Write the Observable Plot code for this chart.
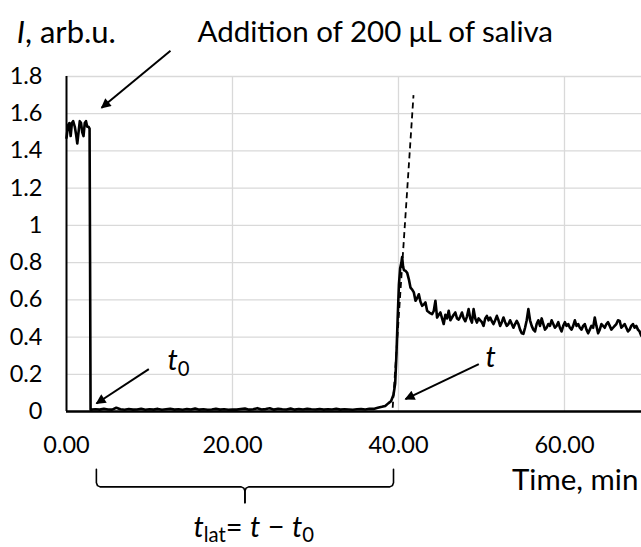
<!DOCTYPE html>
<html>
<head>
<meta charset="utf-8">
<script src="https://cdn.jsdelivr.net/npm/d3@7"></script>
<script src="https://cdn.jsdelivr.net/npm/@observablehq/plot@0.6"></script>
<style>
  html, body { margin: 0; padding: 0; background: #fff; }
  #chart svg { display: block; }
</style>
</head>
<body>
<div id="chart"></div>
<script>
// ---------------- data ----------------
const xTickValues = [0, 20, 40, 60];
const yTickValues = [0, 0.2, 0.4, 0.6, 0.8, 1, 1.2, 1.4, 1.6, 1.8];

// initial signal before saliva addition (time, min ; I, arb.u.)
const startPoints = [
  [0, 1.47], [0.2, 1.54], [0.35, 1.55], [0.5, 1.48], [0.65, 1.55], [0.8, 1.56],
  [1.0, 1.53], [1.15, 1.49], [1.3, 1.44], [1.45, 1.50], [1.6, 1.56], [1.75, 1.55],
  [1.9, 1.50], [2.05, 1.48], [2.2, 1.55], [2.35, 1.56], [2.5, 1.53], [2.65, 1.53],
  [2.78, 1.52], [2.84, 0.8], [2.9, 0.01]
];
// latent period baseline
const baselinePoints = [
  [3.0, 0.010], [3.5, 0.012], [4.0, 0.010], [4.5, 0.015], [5.0, 0.011], [5.5, 0.010],
  [6.0, 0.020], [6.5, 0.012], [7.0, 0.009], [7.5, 0.013], [8.0, 0.010], [8.5, 0.011],
  [9.0, 0.015], [9.5, 0.009], [10.0, 0.012], [10.5, 0.010], [11.0, 0.014], [11.5, 0.009],
  [12.0, 0.012], [12.5, 0.015], [13.0, 0.010], [13.5, 0.012], [14.0, 0.009], [14.5, 0.013],
  [15.0, 0.011], [15.5, 0.016], [16.0, 0.010], [16.5, 0.012], [17.0, 0.009], [17.5, 0.011],
  [18.0, 0.014], [18.5, 0.010], [19.0, 0.012], [19.5, 0.009], [20.0, 0.011], [20.5, 0.010],
  [21.0, 0.013], [21.5, 0.016], [22.0, 0.010], [22.5, 0.012], [23.0, 0.018], [23.5, 0.011],
  [24.0, 0.013], [24.5, 0.017], [25.0, 0.010], [25.5, 0.015], [26.0, 0.012], [26.5, 0.011],
  [27.0, 0.016], [27.5, 0.010], [28.0, 0.013], [28.5, 0.011], [29.0, 0.014], [29.5, 0.012],
  [30.0, 0.011], [30.5, 0.013], [31.0, 0.010], [31.5, 0.012], [32.0, 0.011], [32.5, 0.014],
  [33.0, 0.010], [33.5, 0.012], [34.0, 0.011], [34.5, 0.009], [35.0, 0.012], [35.5, 0.013],
  [36.0, 0.011], [36.5, 0.015], [37.0, 0.014]
];
// flash rise
const risePoints = [
  [37.5, 0.02], [38.0, 0.025], [38.4, 0.03], [38.8, 0.045], [39.1, 0.055], [39.4, 0.09],
  [39.6, 0.15], [39.75, 0.3], [39.9, 0.5], [40.05, 0.68], [40.2, 0.77], [40.35, 0.80],
  [40.44, 0.83], [40.55, 0.78], [40.65, 0.76], [40.85, 0.755]
];
// decay / plateau
const decayPoints = [
  [41.05, 0.745], [41.25, 0.71], [41.45, 0.665], [41.65, 0.655], [41.85, 0.64], [42.05, 0.595],
  [42.25, 0.61], [42.45, 0.63], [42.65, 0.59], [42.85, 0.568], [43.05, 0.575], [43.25, 0.586],
  [43.45, 0.541], [43.75, 0.53], [44.05, 0.523], [44.25, 0.54], [44.45, 0.595], [44.65, 0.505],
  [44.85, 0.52], [45.05, 0.532], [45.25, 0.50], [45.45, 0.47], [45.65, 0.52], [45.85, 0.50],
  [46.05, 0.541], [46.25, 0.49], [46.45, 0.505], [46.65, 0.52], [46.85, 0.532], [47.05, 0.50],
  [47.25, 0.494], [47.45, 0.51], [47.65, 0.532], [47.85, 0.50], [48.05, 0.485], [48.25, 0.51],
  [48.45, 0.55], [48.65, 0.50], [48.85, 0.478], [49.05, 0.55], [49.25, 0.50], [49.45, 0.478],
  [49.65, 0.50], [49.85, 0.49], [50.05, 0.48], [50.25, 0.46], [50.45, 0.50], [50.65, 0.514],
  [50.85, 0.49], [51.05, 0.505], [51.25, 0.485], [51.45, 0.47], [51.65, 0.49], [51.85, 0.514],
  [52.05, 0.49], [52.25, 0.46], [52.45, 0.48], [52.65, 0.505], [52.85, 0.48], [53.05, 0.46],
  [53.25, 0.47], [53.45, 0.49], [53.65, 0.47], [53.85, 0.45], [54.05, 0.47], [54.25, 0.487],
  [54.45, 0.47], [54.65, 0.44], [54.85, 0.42], [55.05, 0.417], [55.25, 0.45], [55.45, 0.49],
  [55.65, 0.55], [55.85, 0.49], [56.05, 0.46], [56.25, 0.44], [56.45, 0.43], [56.65, 0.47],
  [56.85, 0.49], [57.05, 0.46], [57.25, 0.50], [57.45, 0.47], [57.65, 0.44], [57.85, 0.45],
  [58.05, 0.47], [58.25, 0.46], [58.45, 0.49], [58.65, 0.47], [58.85, 0.45], [59.05, 0.46],
  [59.25, 0.48], [59.45, 0.45], [59.65, 0.43], [59.85, 0.46], [60.05, 0.48], [60.25, 0.46],
  [60.45, 0.47], [60.65, 0.45], [60.85, 0.44], [61.05, 0.46], [61.25, 0.49], [61.45, 0.46],
  [61.65, 0.47], [61.85, 0.45], [62.05, 0.44], [62.25, 0.46], [62.45, 0.47], [62.65, 0.44],
  [62.85, 0.42], [63.05, 0.44], [63.25, 0.46], [63.45, 0.45], [63.65, 0.505], [63.85, 0.46],
  [64.05, 0.42], [64.25, 0.44], [64.45, 0.47], [64.65, 0.46], [64.85, 0.45], [65.05, 0.47],
  [65.25, 0.48], [65.45, 0.46], [65.65, 0.44], [65.85, 0.45], [66.05, 0.46], [66.25, 0.47],
  [66.45, 0.49], [66.65, 0.487], [66.85, 0.45], [67.05, 0.46], [67.25, 0.47], [67.45, 0.45],
  [67.65, 0.43], [67.85, 0.44], [68.05, 0.46], [68.25, 0.47], [68.45, 0.45], [68.65, 0.46],
  [68.85, 0.44], [69.05, 0.43], [69.25, 0.407]
];

// annotations (data units: time, min ; I, arb.u.)
const t0Value = 3.6;     // t0 : start of latent period
const tValue = 39.4;     // t  : flash onset
const arrowFrom = [[12.53, 1.938], [9.92, 0.228], [49.68, 0.255]];
const arrowTo   = [[4.22, 1.632], [3.61, 0.043], [40.84, 0.067]];
const tangentPoints = [[39.3, 0.02], [41.81, 1.70]];
const braceLevels = { braceTop: -0.31, braceBar: -0.405, braceTip: -0.49 };

// ---------------- build ----------------
const signal = [...startPoints, ...baselinePoints, ...risePoints, ...decayPoints]
  .map(([t, I]) => ({ t, I }));
const arrows = arrowFrom.map((f, i) => ({ x1: f[0], y1: f[1], x2: arrowTo[i][0], y2: arrowTo[i][1] }));
const tangent = [{ x1: tangentPoints[0][0], y1: tangentPoints[0][1], x2: tangentPoints[1][0], y2: tangentPoints[1][1] }];

const braceMid = (t0Value + tValue) / 2, brx = 0.45, bry = 0.022;
const { braceTop, braceBar, braceTip } = braceLevels;
const braceHalf = (s, e) => [
  [e, braceTop], [e, braceBar + bry], [e + s * brx * 0.3, braceBar + bry * 0.3], [e + s * brx, braceBar],
  [braceMid - s * brx, braceBar], [braceMid - s * brx * 0.3, braceBar - bry * 0.3], [braceMid, braceBar - bry], [braceMid, braceTip]
];
const brace = [
  ...braceHalf(1, t0Value).map(([x, y]) => ({ x, y, side: "L" })),
  ...braceHalf(-1, tValue).map(([x, y]) => ({ x, y, side: "R" }))
];

const labels = [
  { x: -6.0, y: 2.035, text: "I, arb.u.", anchor: "start", size: 31, key: "ylab" },
  { x: 37.2, y: 2.035, text: "Addition of 200 μL of saliva", anchor: "middle", size: 29.5, key: "title" },
  { x: 68.9, y: -0.372, text: "Time, min", anchor: "end", size: 29.5, key: "xlab" },
  { x: 12.17, y: 0.272, text: "t0", anchor: "start", size: 29, key: "t0" },
  { x: 50.48, y: 0.289, text: "t", anchor: "start", size: 29, key: "t" },
  { x: 15.3, y: -0.625, text: "tlat= t − t0", anchor: "start", size: 29, key: "tlat" }
];

const font = "Lato, 'Open Sans', sans-serif";

const chart = Plot.plot({
  width: 641,
  height: 547,
  marginLeft: 66,
  marginRight: 0,
  marginTop: 76,
  marginBottom: 136,
  style: { fontFamily: font, fontSize: "23.5px", color: "#000", background: "#fff", overflow: "visible" },
  x: { domain: [0, 69.28], ticks: xTickValues, tickFormat: d3.format(".2f"), tickSize: 0, tickPadding: 25, label: null },
  y: { domain: [0, 1.8], ticks: yTickValues, tickFormat: d => String(+d.toFixed(1)), tickSize: 0, tickPadding: 24, label: null },
  marks: [
    Plot.ruleY(yTickValues.filter(d => d > 0), { stroke: "#d9d9d9", strokeWidth: 1.3 }),
    Plot.ruleX(xTickValues.filter(d => d > 0), { y1: 0, y2: 1.8, stroke: "#d9d9d9", strokeWidth: 1.3 }),
    Plot.ruleX([0], { y1: 0, y2: 1.8, stroke: "#000", strokeWidth: 2 }),
    Plot.ruleY([0], { stroke: "#000", strokeWidth: 2.5 }),
    Plot.link(tangent, { x1: "x1", y1: "y1", x2: "x2", y2: "y2", stroke: "#000", strokeWidth: 1.8, strokeDasharray: "6,4" }),
    Plot.line(signal, { x: "t", y: "I", stroke: "#000", strokeWidth: 2.6, strokeLinejoin: "round" }),
    Plot.link(arrows, { x1: "x1", y1: "y1", x2: "x2", y2: "y2", stroke: "#000", strokeWidth: 2, className: "ann-arrow" }),
    Plot.line(brace, { x: "x", y: "y", z: "side", stroke: "#000", strokeWidth: 1.6 }),
    ...labels.map(l => Plot.text([l], {
      x: "x", y: "y", text: "text", textAnchor: l.anchor, fontSize: l.size,
      fill: "#000", className: "lbl-" + l.key
    }))
  ]
});

// rich text (italics and subscripts)
const svgSel = d3.select(chart);
const richText = {
  ylab: '<tspan font-style="italic">I</tspan>, arb.u.',
  t0: '<tspan font-style="italic">t</tspan><tspan font-size="70%" dy="0.3em">0</tspan>',
  t: '<tspan font-style="italic">t</tspan>',
  tlat: '<tspan font-style="italic">t</tspan><tspan font-size="70%" dy="0.25em">lat</tspan><tspan dy="-0.175em">= </tspan><tspan font-style="italic">t</tspan> − <tspan font-style="italic">t</tspan><tspan font-size="70%" dy="0.25em">0</tspan>'
};
Object.entries(richText).forEach(([k, html]) => {
  svgSel.selectAll(`g.lbl-${k} text`).html(html);
});

// filled arrow heads
const defs = svgSel.insert("defs", ":first-child");
defs.append("marker")
  .attr("id", "ahead").attr("viewBox", "0 0 10 10")
  .attr("refX", 9).attr("refY", 5)
  .attr("markerWidth", 6.5).attr("markerHeight", 5)
  .attr("orient", "auto")
  .append("path").attr("d", "M0,0 L10,5 L0,10 Z").attr("fill", "#000");
svgSel.selectAll("g.ann-arrow path, g.ann-arrow line").attr("marker-end", "url(#ahead)");

document.getElementById("chart").appendChild(chart);
</script>
</body>
</html>
